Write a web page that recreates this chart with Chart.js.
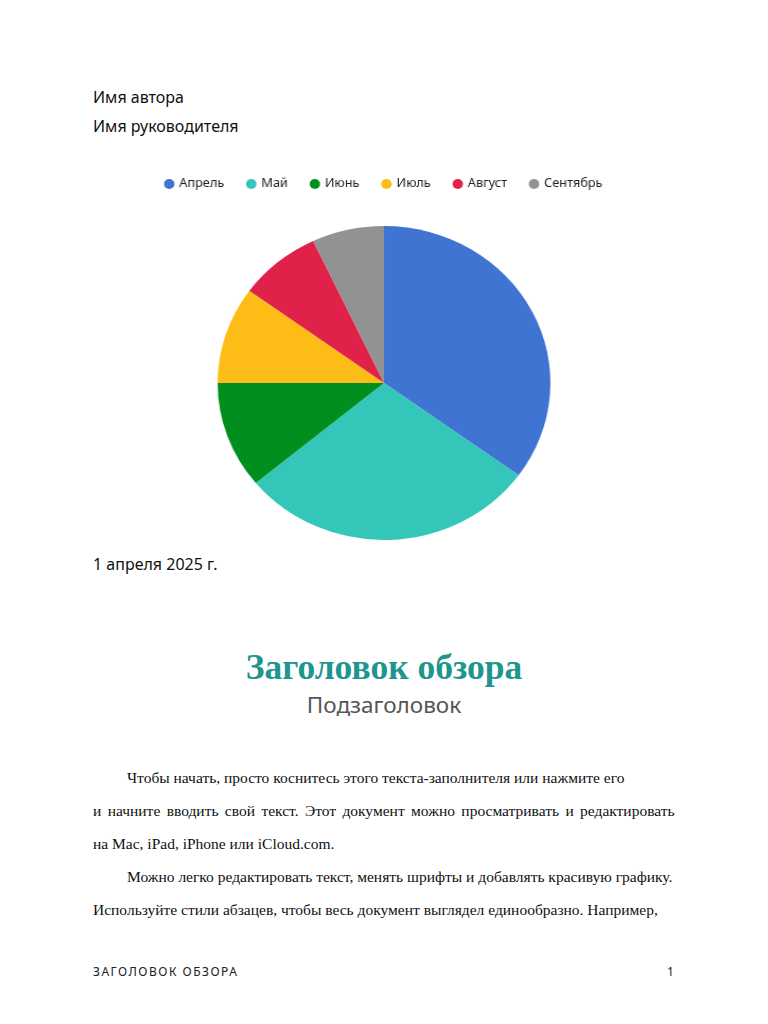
<!DOCTYPE html>
<html lang="ru">
<head>
<meta charset="utf-8">
<script src="https://cdn.jsdelivr.net/npm/chart.js@4.4.1/dist/chart.umd.min.js"></script>
<style>
  html, body { margin: 0; padding: 0; background: #fff; }
  body { width: 768px; height: 1024px; position: relative; overflow: hidden; font-family: 'Noto Sans', sans-serif; color: #111; }
  .t { position: absolute; left: 93px; margin: 0; white-space: nowrap; }
  .meta { font-size: 16px; }
  #chartBox { position: absolute; left: 0; top: 156px; width: 768px; height: 390px; transform: scaleX(1.06); transform-origin: 384px 0; }
  .title { position: absolute; left: 0; width: 768px; text-align: center; margin: 0; }
  .body { font-family: 'Liberation Serif', serif; font-size: 15.5px; line-height: 33px; position: absolute; left: 93px; top: 761px; width: 600px; }
  .body p { margin: 0; white-space: nowrap; }
  .footer { position: absolute; top: 963px; font-size: 12px; letter-spacing: 1.5px; color: #222; }
</style>
</head>
<body>
<p class="t meta" style="top:86px">Имя автора</p>
<p class="t meta" style="top:115px">Имя руководителя</p>

<div id="chartBox"><canvas id="pieChart"></canvas></div>

<p class="t meta" style="top:553px">1 апреля 2025 г.</p>

<h1 class="title" style="top:646px; font-family:'Liberation Serif', serif; font-weight:bold; font-size:35.5px; color:#1f958f;">Заголовок обзора</h1>
<h2 class="title" style="top:689px; font-weight:normal; font-size:22.5px; color:#555;">Подзаголовок</h2>

<div class="body">
  <p style="text-indent:34px">Чтобы начать, просто коснитесь этого текста-заполнителя или нажмите его</p>
  <p style="word-spacing:2.5px">и начните вводить свой текст. Этот документ можно просматривать и редактировать</p>
  <p>на Mac, iPad, iPhone или iCloud.com.</p>
  <p style="text-indent:34px">Можно легко редактировать текст, менять шрифты и добавлять красивую графику.</p>
  <p>Используйте стили абзацев, чтобы весь документ выглядел единообразно. Например,</p>
</div>

<span class="footer" style="left:93px">ЗАГОЛОВОК ОБЗОРА</span>
<span class="footer" style="left:667px">1</span>

<script>
// Данные диаграммы
const months = ['Апрель', 'Май', 'Июнь', 'Июль', 'Август', 'Сентябрь'];
const shares = [35, 29, 11, 10, 8, 7];
const sliceColors = ['#3f74d3', '#33c6b9', '#008f1e', '#fdbc16', '#e0214a', '#929292'];

// Отступ между легендой и диаграммой
const legendGap = {
    id: 'legendGap',
    beforeInit(chart) {
        const fit = chart.legend.fit;
        chart.legend.fit = function () {
            fit.call(this);
            this.height += 26;
        };
    }
};

const chart = new Chart(document.getElementById('pieChart'), {
    type: 'pie',
    data: {
        labels: months,
        datasets: [{
            data: shares,
            backgroundColor: sliceColors,
            borderWidth: 0
        }]
    },
    options: {
        responsive: true,
        maintainAspectRatio: false,
        animation: false,
        layout: { padding: { top: 0, bottom: 6 } },
        plugins: {
            legend: {
                position: 'top',
                labels: {
                    usePointStyle: true,
                    pointStyle: 'circle',
                    boxWidth: 7,
                    boxHeight: 7,
                    padding: 22,
                    color: '#222',
                    font: { family: 'Noto Sans', size: 12 }
                }
            },
            tooltip: { enabled: false }
        }
    },
    plugins: [legendGap]
});
</script>
</body>
</html>
